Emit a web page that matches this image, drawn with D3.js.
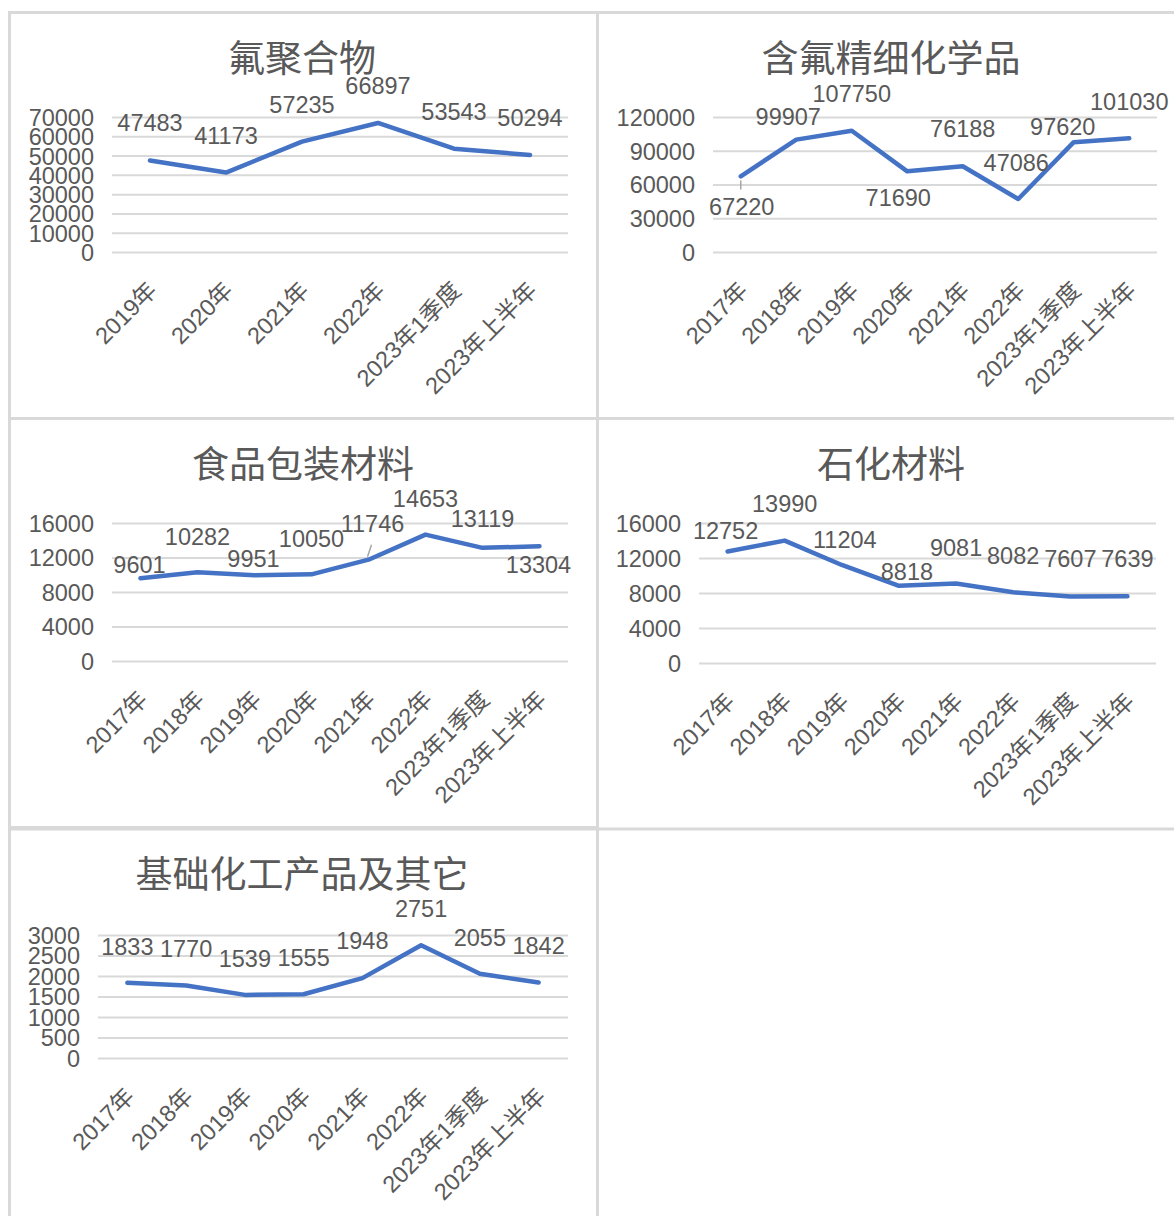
<!DOCTYPE html>
<html>
<head>
<meta charset="utf-8">
<script src="https://cdn.jsdelivr.net/npm/d3@7"></script>
<style>
  html, body { margin: 0; padding: 0; background: #fff; }
  svg { display: block; }
  text { fill: #595959; }
</style>
</head>
<body>
<div id="chart"></div>
<script>
'use strict';

// categories
const years6 = ["2019年", "2020年", "2021年", "2022年", "2023年1季度", "2023年上半年"];
const years8 = ["2017年", "2018年", "2019年", "2020年", "2021年", "2022年", "2023年1季度", "2023年上半年"];

// series values
const fluoroPolymer = [47483, 41173, 57235, 66897, 53543, 50294];
const fluoroFineChem = [67220, 99907, 107750, 71690, 76188, 47086, 97620, 101030];
const foodPackaging = [9601, 10282, 9951, 10050, 11746, 14653, 13119, 13304];
const petroMaterial = [12752, 13990, 11204, 8818, 9081, 8082, 7607, 7639];
const basicChem = [1833, 1770, 1539, 1555, 1948, 2751, 2055, 1842];

// tick labels
const ticks1 = [0, 10000, 20000, 30000, 40000, 50000, 60000, 70000];
const ticks2 = [0, 30000, 60000, 90000, 120000];
const ticks3 = [0, 4000, 8000, 12000, 16000];
const ticks4 = [0, 4000, 8000, 12000, 16000];
const ticks5 = [0, 500, 1000, 1500, 2000, 2500, 3000];

const titles = ["氟聚合物", "含氟精细化学品", "食品包装材料", "石化材料", "基础化工产品及其它"];

const colors = {
  line: '#4472C4',
  grid: '#d9d9d9',
  text: '#595959',
  border: '#d9d9d9',
  leader: '#a6a6a6'
};

const numFont = '"Liberation Sans", Arial, "Noto Sans CJK SC", sans-serif';
const cjkFont = '"Noto Sans CJK SC", "Liberation Sans", sans-serif';
const labelSize = '23.5px';

// where each panel's plot sits on the page, and how its labels are nudged
const panels = [
  { cats: years6, values: fluoroPolymer, ticks: ticks1, title: titles[0],
    x0: 112, x1: 568, yTop: 117, yBottom: 252, titleX: 302, titleY: 72,
    labelOff: [[0,-29],[0,-29],[0,-29],[0,-29],[0,-29],[0,-29]], leaders: [] },
  { cats: years8, values: fluoroFineChem, ticks: ticks2, title: titles[1],
    x0: 713, x1: 1157, yTop: 117, yBottom: 252, titleX: 891, titleY: 72,
    labelOff: [[1,39],[-8,-15],[0,-29],[-9,35],[0,-29],[-2,-28],[-11,-7],[0,-28]],
    leaders: [{i: 0, from: [0,4], to: [0,13]}] },
  { cats: years8, values: foodPackaging, ticks: ticks3, title: titles[2],
    x0: 112, x1: 568, yTop: 523, yBottom: 661, titleX: 303, titleY: 478,
    labelOff: [[-1,-5],[0,-27],[-1,-8],[0,-27],[4,-28],[0,-28],[0,-21],[-1,27]],
    leaders: [{i: 4, from: [-1,-3], to: [3,-15]}] },
  { cats: years8, values: petroMaterial, ticks: ticks4, title: titles[3],
    x0: 699, x1: 1156, yTop: 523, yBottom: 663, titleX: 891, titleY: 478,
    labelOff: [[-2,-12],[0,-29],[3,-17],[8,-6],[0,-28],[0,-28],[0,-29],[0,-29]], leaders: [] },
  { cats: years8, values: basicChem, ticks: ticks5, title: titles[4],
    x0: 98, x1: 568, yTop: 935, yBottom: 1058, titleX: 302, titleY: 888,
    labelOff: [[0,-28],[0,-28],[0,-28],[0,-28],[0,-29],[0,-28],[0,-28],[0,-28]], leaders: [] }
];

const W = 1174, H = 1216;
const svg = d3.select('#chart').append('svg').attr('width', W).attr('height', H);

// panel frame lines
const frame = svg.append('g').attr('stroke', colors.border).attr('stroke-width', 3);
frame.append('line').attr('x1', 9.5).attr('x2', 9.5).attr('y1', 11).attr('y2', H);
frame.append('line').attr('x1', 597.5).attr('x2', 597.5).attr('y1', 11).attr('y2', H);
frame.append('line').attr('x1', 8).attr('x2', W).attr('y1', 12.5).attr('y2', 12.5);
frame.append('line').attr('x1', 8).attr('x2', W).attr('y1', 418.5).attr('y2', 418.5);
frame.append('line').attr('x1', 8).attr('x2', W).attr('y1', 829).attr('y2', 829);
frame.append('line').attr('x1', 8).attr('x2', 597).attr('y1', 827.5).attr('y2', 827.5);

function drawPanel(p) {
  const g = svg.append('g');

  const x = d3.scalePoint().domain(p.cats).range([p.x0, p.x1]).padding(0.5);
  const yMax = p.ticks[p.ticks.length - 1];
  const y = d3.scaleLinear().domain([0, yMax]).range([p.yBottom, p.yTop]);

  // title
  g.append('text')
    .attr('x', p.titleX).attr('y', p.titleY)
    .attr('text-anchor', 'middle')
    .style('font-family', cjkFont)
    .style('font-size', '37px')
    .style('fill', colors.text)
    .text(p.title);

  // gridlines
  const grid = g.append('g')
    .attr('transform', `translate(${p.x0},0)`)
    .call(d3.axisLeft(y).tickValues(p.ticks).tickSize(-(p.x1 - p.x0)).tickFormat(''));
  grid.select('.domain').remove();
  grid.selectAll('line').attr('stroke', colors.grid).attr('stroke-width', 2);

  // y tick labels
  const yAxis = g.append('g')
    .attr('transform', `translate(${p.x0 - 18},0)`)
    .call(d3.axisLeft(y).tickValues(p.ticks).tickSize(0).tickPadding(0).tickFormat(d3.format('d')));
  yAxis.select('.domain').remove();
  yAxis.selectAll('text')
    .style('font-family', numFont)
    .style('font-size', labelSize)
    .style('fill', colors.text)
    .attr('dy', '0.36em');

  // x tick labels, turned 45 degrees
  const xAxis = g.append('g')
    .attr('transform', `translate(0,${p.yBottom})`)
    .call(d3.axisBottom(x).tickSize(0));
  xAxis.select('.domain').remove();
  xAxis.selectAll('text')
    .attr('y', 0).attr('x', 0).attr('dy', '0.36em')
    .attr('transform', 'translate(2,34) rotate(-45)')
    .attr('text-anchor', 'end')
    .style('font-family', numFont)
    .style('font-size', labelSize)
    .style('fill', colors.text);

  // the line
  const line = d3.line()
    .x((d, i) => x(p.cats[i]))
    .y(d => y(d));
  g.append('path')
    .datum(p.values)
    .attr('d', line)
    .attr('fill', 'none')
    .attr('stroke', colors.line)
    .attr('stroke-width', 4.5)
    .attr('stroke-linejoin', 'round')
    .attr('stroke-linecap', 'round');

  // leader lines
  p.leaders.forEach(l => {
    const px = x(p.cats[l.i]), py = y(p.values[l.i]);
    g.append('line')
      .attr('x1', px + l.from[0]).attr('y1', py + l.from[1])
      .attr('x2', px + l.to[0]).attr('y2', py + l.to[1])
      .attr('stroke', colors.leader).attr('stroke-width', 1.5);
  });

  // data labels
  g.selectAll('.val')
    .data(p.values)
    .enter()
    .append('text')
    .attr('class', 'val')
    .attr('x', (d, i) => x(p.cats[i]) + p.labelOff[i][0])
    .attr('y', (d, i) => y(d) + p.labelOff[i][1])
    .attr('text-anchor', 'middle')
    .style('font-family', numFont)
    .style('font-size', labelSize)
    .style('fill', colors.text)
    .text(d => d);
}

panels.forEach(drawPanel);
</script>
</body>
</html>
